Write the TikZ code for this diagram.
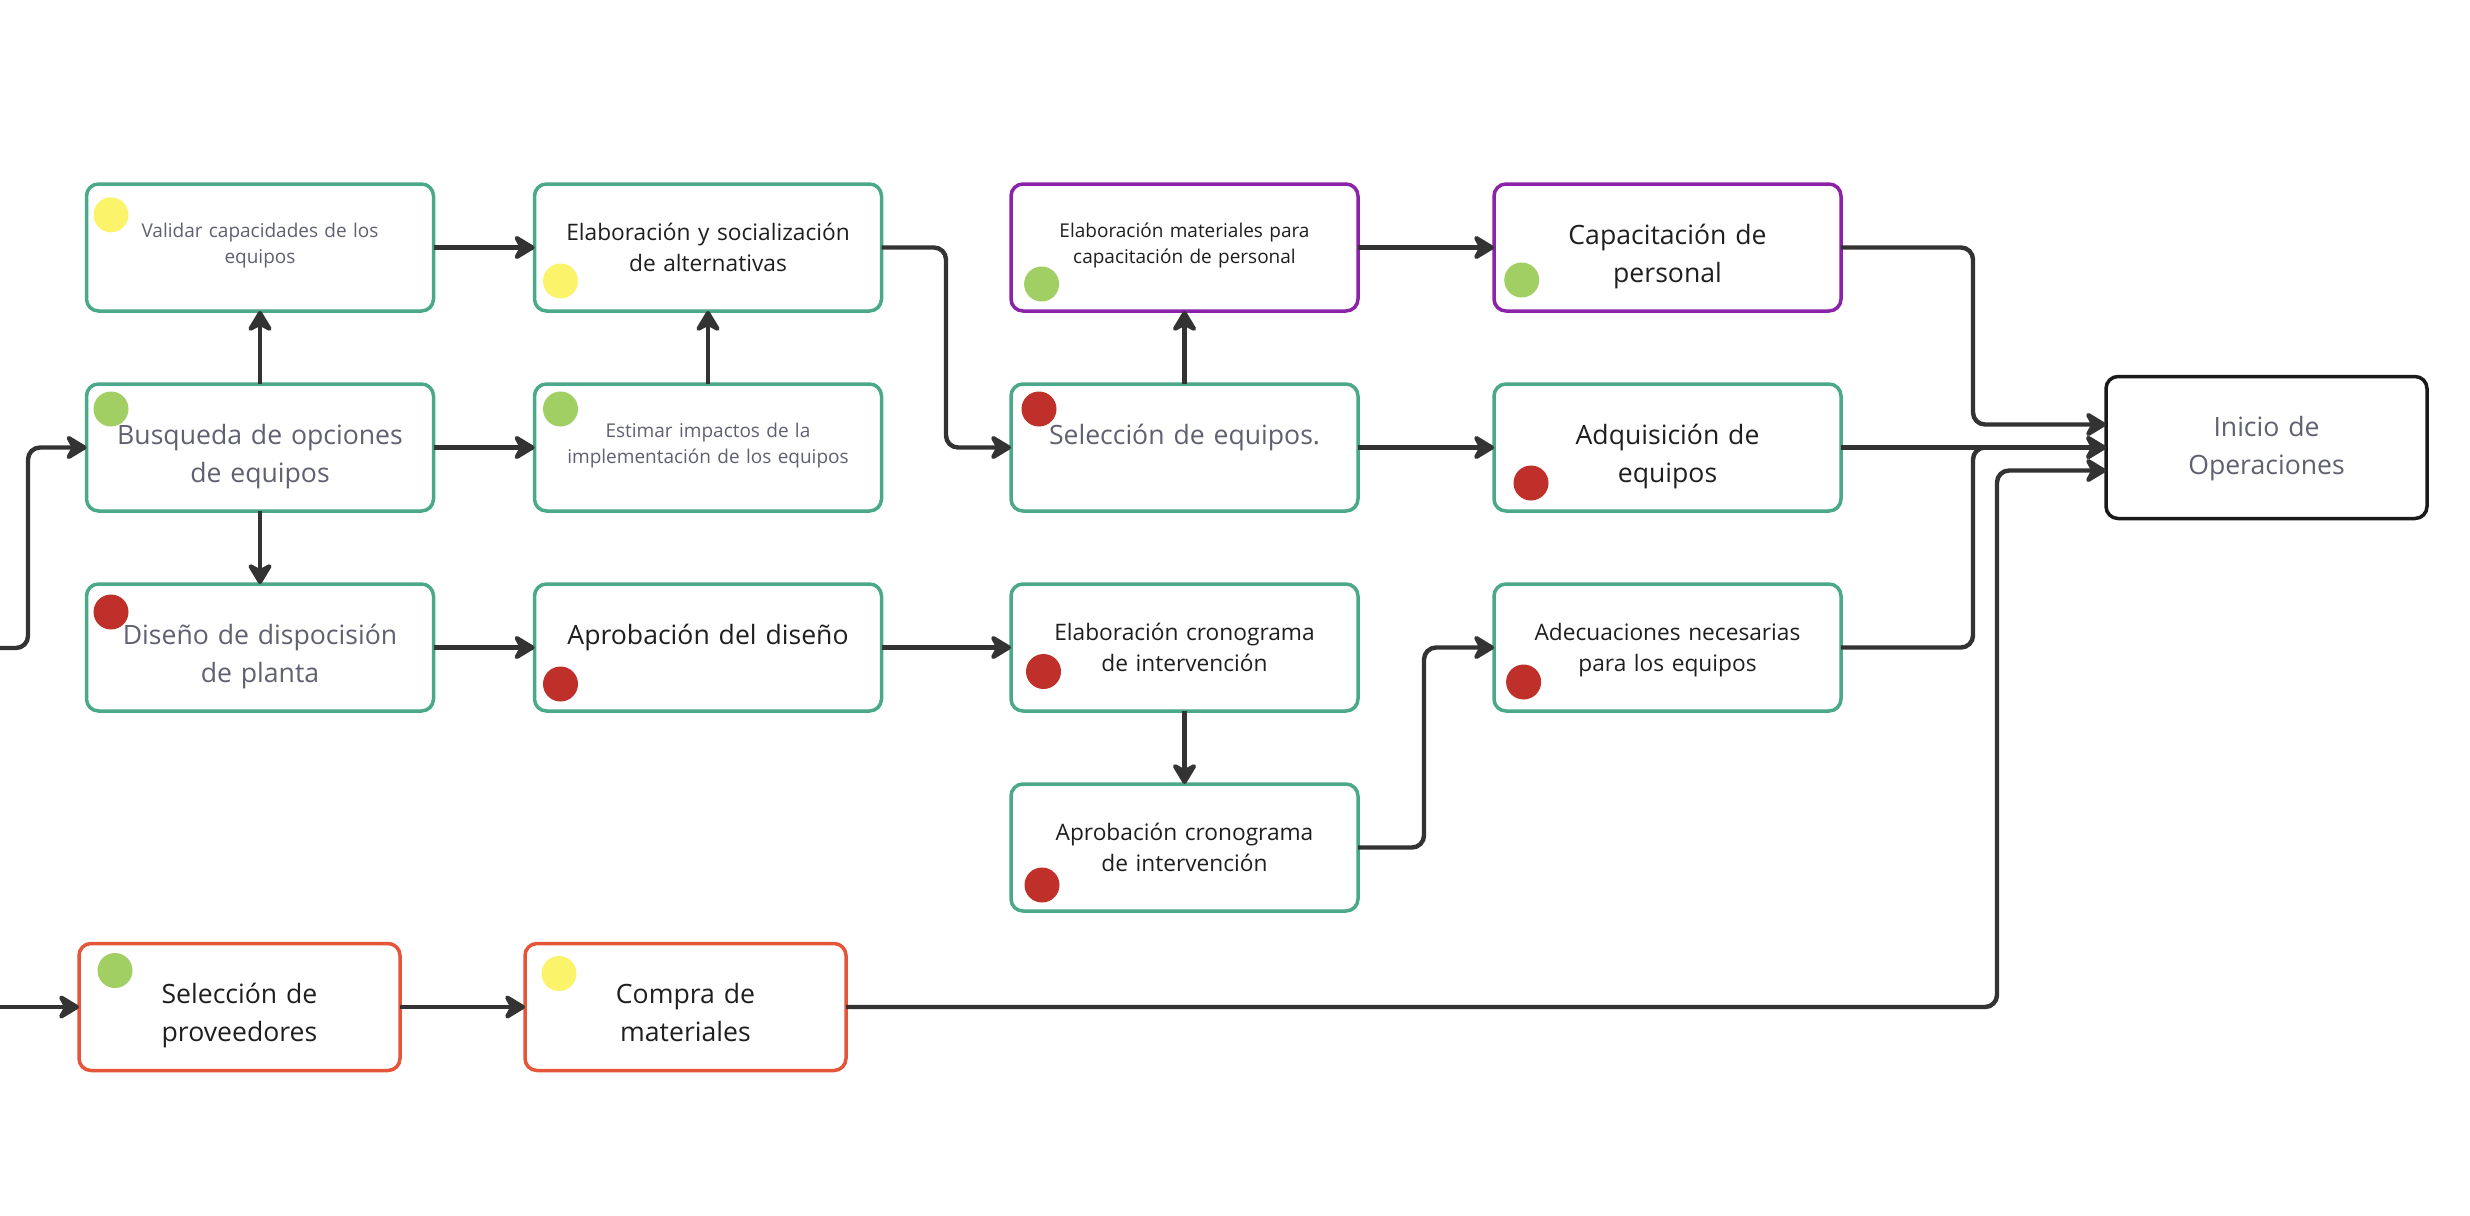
\documentclass[tikz,border=0pt]{standalone}
\usepackage{fontspec}
\setmainfont{Open Sans}
\usetikzlibrary{positioning,arrows.meta,calc}

\definecolor{actline}{HTML}{4BA88A}
\definecolor{prpline}{HTML}{8A23A8}
\definecolor{provline}{HTML}{E4553A}
\definecolor{finline}{HTML}{1A1A1A}
\definecolor{linegray}{HTML}{333333}
\definecolor{txtgray}{HTML}{5F6170}
\definecolor{txtblack}{HTML}{1F1F1F}
\definecolor{dotyel}{HTML}{FBF46B}
\definecolor{dotgrn}{HTML}{A1CF63}
\definecolor{dotred}{HTML}{C0302A}

\tikzset{
  act/.style={rectangle, rounded corners=6pt, draw=actline, line width=1.75pt, fill=white,
    minimum width=173.5pt, minimum height=63.5pt, text width=168pt, align=center,
    inner sep=0pt, outer sep=0pt, text=txtblack},
  prp/.style={act, draw=prpline},
  prov/.style={act, draw=provline, minimum width=160.5pt, text width=155pt},
  fin/.style={act, draw=finline, minimum width=160.5pt, minimum height=71pt, text width=155pt},
  bigtxt/.style={font=\fontsize{13.3pt}{19pt}\selectfont, text height=0pt, text depth=3.5pt},
  midtxt/.style={font=\fontsize{11.35pt}{15.75pt}\selectfont, text height=0pt, text depth=7.5pt},
  smalltxt/.style={font=\fontsize{9.5pt}{12.75pt}\selectfont, text height=0pt, text depth=10pt},
  dot/.style={circle, minimum size=17.5pt, inner sep=0pt},
  flow/.style={draw=linegray, line width=2.2pt, rounded corners=6pt,
    -{Stealth[length=12.5pt, width=15pt, inset=4pt, round]}}
}

\begin{document}
\begin{tikzpicture}[x=0.5pt, y=-0.5pt]
  \useasboundingbox (0,0) rectangle (2470,1216);

  % equipos
  \node[act, smalltxt, text=txtgray] (valid) at (260,247.5) {Validar capacidades de los\\equipos};
  \node[act, midtxt, right=50.5pt of valid] (social) {Elaboración y socialización\\de alternativas};
  \node[act, bigtxt, text=txtgray, below=36.5pt of valid] (busq) {Busqueda de opciones\\de equipos};
  \node[act, smalltxt, text=txtgray, below=36.5pt of social] (impact) {Estimar impactos de la\\implementación de los equipos};
  \node[act, bigtxt, text=txtgray, below=36.5pt of busq] (layout) {Diseño de dispocisión\\de planta};
  \node[act, bigtxt, below=36.5pt of impact] (aprdis) {Aprobación del diseño};
  \node[act, bigtxt, text=txtgray, right=64.75pt of impact] (selec) {Selección de equipos.};
  \node[prp, smalltxt, above=36.5pt of selec] (mater) {Elaboración materiales para\\capacitación de personal};
  \node[act, midtxt, below=36.5pt of selec] (crono) {Elaboración cronograma\\de intervención};
  \node[act, midtxt, below=36.5pt of crono] (aprcro) {Aprobación cronograma\\de intervención};
  \node[prp, bigtxt, right=68pt of mater] (capac) {Capacitación de\\personal};
  \node[act, bigtxt, right=68pt of selec] (adqui) {Adquisición de\\equipos};
  \node[act, midtxt, right=68pt of crono] (adecu) {Adecuaciones necesarias\\para los equipos};
  \node[fin, bigtxt, text=txtgray, text depth=11.4pt, right=132.5pt of adqui] (inicio) {Inicio de\\Operaciones};

  % proveedores
  \node[prov, bigtxt] (selprov) at (239.5,1007) {Selección de\\proveedores};
  \node[prov, bigtxt, right=62.5pt of selprov] (compra) {Compra de\\materiales};

  % semaforos
  \node[dot, fill=dotyel] (valid-d) at ([shift={(24.5,30.8)}]valid.north west) {};
  \node[dot, fill=dotyel] (social-d) at ([shift={(26,97)}]social.north west) {};
  \node[dot, fill=dotgrn] (busq-d) at ([shift={(24.5,25)}]busq.north west) {};
  \node[dot, fill=dotgrn] (impact-d) at ([shift={(26,25)}]impact.north west) {};
  \node[dot, fill=dotred] (layout-d) at ([shift={(24.5,28)}]layout.north west) {};
  \node[dot, fill=dotred] (aprdis-d) at ([shift={(26,100)}]aprdis.north west) {};
  \node[dot, fill=dotgrn] (mater-d) at ([shift={(30.6,100)}]mater.north west) {};
  \node[dot, fill=dotgrn] (capac-d) at ([shift={(27.7,96)}]capac.north west) {};
  \node[dot, fill=dotred] (selec-d) at ([shift={(28,25)}]selec.north west) {};
  \node[dot, fill=dotred] (adqui-d) at ([shift={(37,99)}]adqui.north west) {};
  \node[dot, fill=dotred] (crono-d) at ([shift={(32.5,87.5)}]crono.north west) {};
  \node[dot, fill=dotred] (adecu-d) at ([shift={(29.6,98)}]adecu.north west) {};
  \node[dot, fill=dotred] (aprcro-d) at ([shift={(31,101)}]aprcro.north west) {};
  \node[dot, fill=dotgrn] (selprov-d) at ([shift={(36,27)}]selprov.north west) {};
  \node[dot, fill=dotyel] (compra-d) at ([shift={(34,30)}]compra.north west) {};

  % entradas
  \coordinate (feedA) at (0,648);
  \coordinate (feedB) at (0,1007);
  \draw[flow] (feedA) -| ([xshift=-29.25pt]busq.west) -- (busq.west);
  \draw[flow] (feedB) -- (selprov.west);

  % flujo
  \draw[flow] (busq.north) -- (valid.south);
  \draw[flow] (busq.south) -- (layout.north);
  \draw[flow] (busq.east) -- (impact.west);
  \draw[flow] (valid.east) -- (social.west);
  \draw[flow] (impact.north) -- (social.south);
  \draw[flow] (social.east) -| ([xshift=-32.5pt]selec.west) -- (selec.west);
  \draw[flow] (selec.north) -- (mater.south);
  \draw[flow] (selec.east) -- (adqui.west);
  \draw[flow] (mater.east) -- (capac.west);
  \draw[flow] (layout.east) -- (aprdis.west);
  \draw[flow] (aprdis.east) -- (crono.west);
  \draw[flow] (crono.south) -- (aprcro.north);
  \draw[flow] (aprcro.east) -| ([xshift=-35pt]adecu.west) -- (adecu.west);
  \draw[flow] (selprov.east) -- (compra.west);

  % hacia inicio
  \draw[flow] (capac.east) -| ([xshift=-66.5pt,yshift=11.5pt]inicio.west) -- ([yshift=11.5pt]inicio.west);
  \draw[flow] (adqui.east) -- (inicio.west);
  \draw[flow] (adecu.east) -| ([xshift=-66.5pt]inicio.west) -- (inicio.west);
  \draw[flow] (compra.east) -| ([xshift=-54.5pt,yshift=-11.5pt]inicio.west) -- ([yshift=-11.5pt]inicio.west);
\end{tikzpicture}
\end{document}
